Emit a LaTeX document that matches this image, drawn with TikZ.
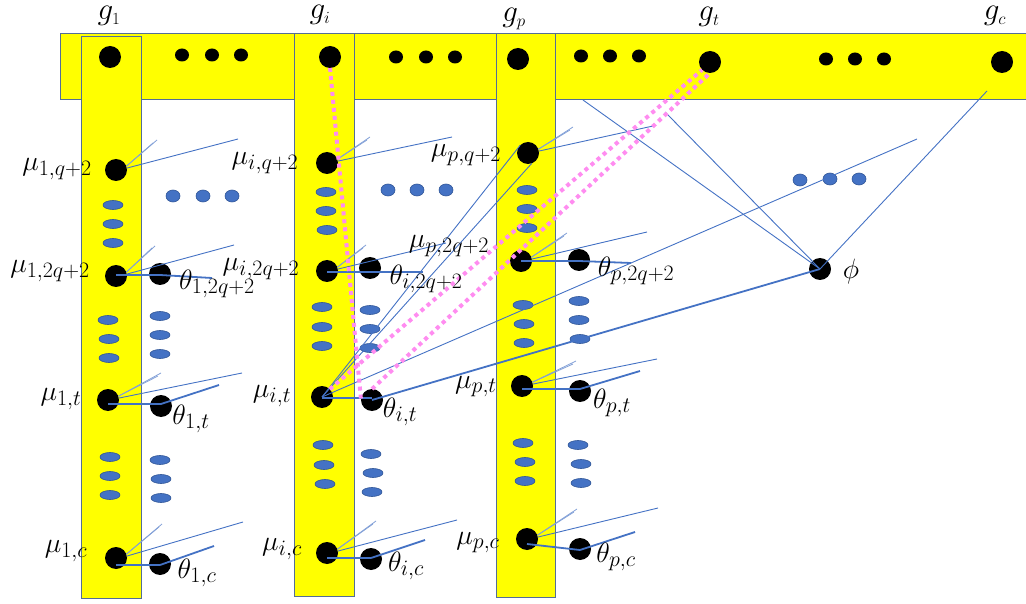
\RequirePackage{fix-cm}
\documentclass[tikz,border=0pt]{standalone}
\usetikzlibrary{shapes.geometric}
\DeclareMathSizes{28}{28}{22}{15}
\DeclareMathSizes{31}{31}{17}{12}
\definecolor{ybar}{RGB}{255,255,0}
\definecolor{boxline}{RGB}{84,110,150}
\definecolor{lblue}{RGB}{68,114,196}
\definecolor{dblue}{RGB}{47,85,151}
\definecolor{fanblue}{RGB}{130,160,215}
\definecolor{pinkdot}{RGB}{255,140,240}
\begin{document}
\begin{tikzpicture}[x=1pt,y=-1pt,
  barbox/.style={rectangle, fill=ybar, draw=boxline, line width=1pt, inner sep=0, outer sep=0},
  bdot/.style={circle, fill=black, minimum size=22pt, inner sep=0, outer sep=0},
  sdot/.style={ellipse, fill=black, minimum width=14pt, minimum height=13pt, inner sep=0},
  bell/.style={ellipse, fill=lblue, draw=dblue, line width=0.6pt, minimum width=20pt, minimum height=9pt, inner sep=0},
  bcirc/.style={ellipse, fill=lblue, draw=dblue, line width=0.6pt, minimum width=14pt, minimum height=12pt, inner sep=0},
  wire/.style={draw=lblue, line width=0.9pt},
  fanwire/.style={draw=fanblue, line width=0.8pt},
  wirebold/.style={draw=lblue, line width=1.8pt},
  pinkwire/.style={draw=pinkdot, line width=4pt, dash pattern=on 4pt off 4pt},
  lab/.style={inner sep=0, font=\fontsize{28}{32}\selectfont},
  glab/.style={inner sep=0, font=\fontsize{31}{34}\selectfont}]
\useasboundingbox (0,0) rectangle (1026,604);

% yellow bar and columns
\node[barbox, minimum width=970pt, minimum height=66pt] (bar) at (545,67) {};
\node[barbox, minimum width=60pt, minimum height=561pt] (col1) at (111,317.5) {};
\node[barbox, minimum width=60pt, minimum height=562pt] (coli) at (324,315) {};
\node[barbox, minimum width=59pt, minimum height=563pt] (colp) at (525.5,315.5) {};

% top dots
\node[bdot] (g1) at (110,57) {};
\node[bdot] (gi) at (330,57) {};
\node[bdot] (gp) at (518,59) {};
\node[bdot] (gt) at (710,62) {};
\node[bdot] (gc) at (1002,62) {};
\foreach \x/\y [count=\k] in {182/55,212/55,241/55,396/57,426/57,455/57,581/56,610/56,639/56,826/59,855/59,884/59}
  \node[sdot] (sd\k) at (\x,\y) {};

% blue ellipses
\foreach \x/\y [count=\k] in {113/205,113/224,113/243, 108/320,109/339,109/358, 110/457,110/476,110/495,
  160/316,160/335,160/354, 160/460,161/479,161/498,
  326/192,326/211,327/230, 322/307,322/327,322/346, 323/445,324/465,325/484,
  370/310,370/329,370/348, 371/454,373/473,372/492,
  527/190,527/209,527/228, 523/305,524/324,524/343, 523/443,525/462,525/481,
  579/301,579/320,580/339, 578/445,581/464,581/483}
  \node[bell] (be\k) at (\x,\y) {};
\foreach \x/\y [count=\k] in {173/196,203/196,232/196,388/190,417/190,446/190,800/180,830/179,859/179}
  \node[bcirc] (bc\k) at (\x,\y) {};

% mu and theta dots
\node[bdot] (m1a) at (116,170) {};
\node[bdot] (m1b) at (116,276) {};
\node[bdot] (m1t) at (108,400) {};
\node[bdot] (m1c) at (116,558) {};
\node[bdot] (t1b) at (160,274) {};
\node[bdot] (t1t) at (161,406) {};
\node[bdot] (t1c) at (160,564) {};
\node[bdot] (mia) at (327,163) {};
\node[bdot] (mib) at (327,271) {};
\node[bdot] (mit) at (322,397) {};
\node[bdot] (mic) at (327,553) {};
\node[bdot] (tib) at (370,268) {};
\node[bdot] (tit) at (372,400) {};
\node[bdot] (tic) at (371,559) {};
\node[bdot] (mpa) at (528,153) {};
\node[bdot] (mpb) at (521,261) {};
\node[bdot] (mpt) at (522,386) {};
\node[bdot] (mpc) at (527,539) {};
\node[bdot] (tpb) at (579,260) {};
\node[bdot] (tpt) at (580,391) {};
\node[bdot] (tpc) at (580,549) {};
\node[bdot] (phi) at (820,269) {};

% fans
\foreach \n/\ax/\ay/\bx/\by/\cx/\cy in {
  m1a/157/140/153/143/238/139, m1b/155/246/152/248/234/245,
  m1t/161/373/158/376/242/373, m1c/162/524/159/527/243/522,
  mia/370/137/367/140/452/137, mib/366/245/363/248/446/243,
  mic/376/521/373/524/457/520, mpa/573/127/570/130/653/126,
  mpb/567/233/564/236/647/232, mpt/576/361/573/364/657/359,
  mpc/577/509/574/512/658/508}{
  \coordinate (\n s1) at (\ax,\ay);
  \coordinate (\n s2) at (\bx,\by);
  \coordinate (\n l) at (\cx,\cy);
  \draw[fanwire] (\n.20) -- (\n s1);
  \draw[fanwire] (\n.20) -- (\n s2);
  \draw[wire] (\n.10) -- (\n l);
}

% mu -> theta links (nearly horizontal) and theta tails
\foreach \m/\t/\ys/\ye/\ex/\ey in {m1b/t1b/275/275/212/278, m1t/t1t/404/404/219/385,
  m1c/t1c/565/565/214/546, mib/tib/272/272/423/272, mic/tic/558/558/425/540,
  mpb/tpb/261/261/631/263, mpt/tpt/389/389/640/371, mpc/tpc/544/550/635/532}{
  \coordinate (\t ys) at (0,\ys);
  \coordinate (\t ye) at (0,\ye);
  \coordinate (\t e) at (\ex,\ey);
  \draw[wirebold] (\m.center |- \t ys) -- (\t.center |- \t ye);
  \draw[wirebold] (\t.center |- \t ye) -- (\t e);
}
\coordinate (hit) at (0,398);
\draw[wirebold] (mit.center |- hit) -- (tit.center |- hit);

% other connectors
\coordinate (far) at (917,139);
\coordinate (a1) at (583,100);
\coordinate (a2) at (665,112);
\coordinate (a3) at (987,91);
\draw[wire] (mit.center) -- (mpa.135);
\draw[wire] (mit.center) -- (mpa.290);
\draw[wire] (mit.center) -- (far);
\draw[wirebold] (tit.center) -- (phi.center);
\draw[wire] (a1) -- (phi.center);
\draw[wire] (a2) -- (phi.center);
\draw[wire] (a3) -- (phi.center);

% pink dotted
\draw[pinkwire] (gi.south) -- (tit.west);
\draw[pinkwire] (mit.north east) -- (gt.south west);
\draw[pinkwire] (tit.north) -- (gt.south);

% labels
\node[glab] (lg1) at (109,16) {$g_1$};
\node[glab] (lgi) at (320,15) {$g_i$};
\node[glab] (lgp) at (514,19) {$g_p$};
\node[glab] (lgt) at (709,17) {$g_t$};
\node[glab] (lgc) at (995,16) {$g_c$};

\node[lab] (lm1a) at (57,169) {$\mu_{1,q+2}$};
\node[lab] (lm1b) at (50,271) {$\mu_{1,2q+2}$};
\node[lab] (lm1t) at (61,399) {$\mu_{1,t}$};
\node[lab] (lm1c) at (66,551) {$\mu_{1,c}$};
\node[lab] (lt1b) at (217,284) {$\theta_{1,2q+2}$};
\node[lab] (lt1t) at (191,419) {$\theta_{1,t}$};
\node[lab] (lt1c) at (197,573) {$\theta_{1,c}$};

\node[lab] (lmia) at (265,163) {$\mu_{i,q+2}$};
\node[lab] (lmib) at (261,269) {$\mu_{i,2q+2}$};
\node[lab] (lmit) at (272,396) {$\mu_{i,t}$};
\node[lab] (lmic) at (282,549) {$\mu_{i,c}$};
\node[lab] (ltib) at (426,279) {$\theta_{i,2q+2}$};
\node[lab] (ltit) at (400,412) {$\theta_{i,t}$};
\node[lab] (ltic) at (406,566) {$\theta_{i,c}$};

\node[lab] (lmpa) at (466,155) {$\mu_{p,q+2}$};
\node[lab] (lmpb) at (449,246) {$\mu_{p,2q+2}$};
\node[lab] (lmpt) at (476,387) {$\mu_{p,t}$};
\node[lab] (lmpc) at (478,543) {$\mu_{p,c}$};
\node[lab] (ltpb) at (636,271) {$\theta_{p,2q+2}$};
\node[lab] (ltpt) at (612,403) {$\theta_{p,t}$};
\node[lab] (ltpc) at (616,557) {$\theta_{p,c}$};

\node[lab] (lphi) at (851,272) {$\phi$};
\end{tikzpicture}
\end{document}
